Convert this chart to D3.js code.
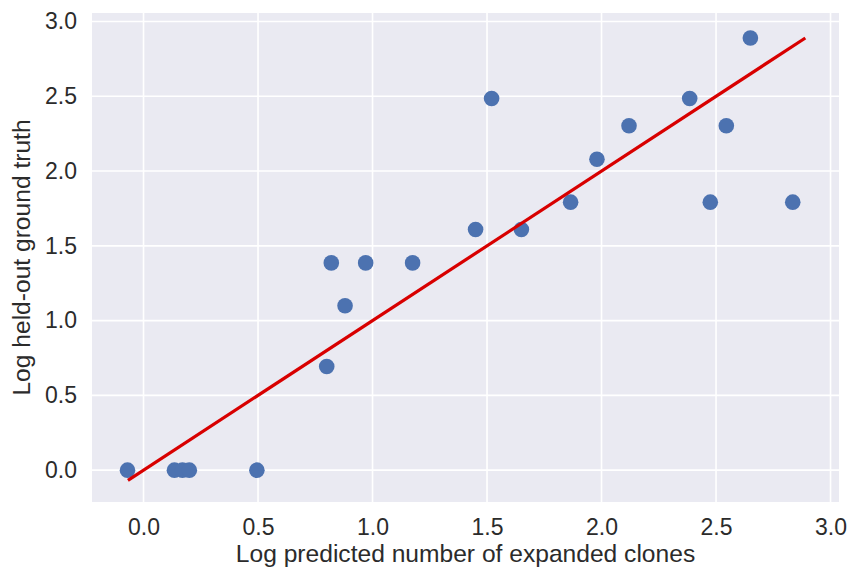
<!DOCTYPE html>
<html>
<head>
<meta charset="utf-8">
<script src="https://d3js.org/d3.v7.min.js"></script>
<style>
  body { margin: 0; background: #fff; }
  text { font-family: "Liberation Sans", Arial, sans-serif; fill: #2b2b2b; }
</style>
</head>
<body>
<div id="chart"></div>
<script>
// predicted (x) vs held-out (y), both log scale
var predicted = [-0.07, 0.135, 0.17, 0.2, 0.495, 0.80, 0.82, 0.88, 0.97, 1.175,
                 1.45, 1.52, 1.65, 1.865, 1.98, 2.12, 2.385, 2.475, 2.545, 2.65, 2.835];
var heldOut   = [0, 0, 0, 0, 0, 0.693, 1.386, 1.099, 1.386, 1.386,
                 1.609, 2.485, 1.609, 1.792, 2.079, 2.303, 2.485, 1.792, 2.303, 2.890, 1.792];
var lineEnds  = [-0.068, 2.89];
var xTicks = [0, 0.5, 1, 1.5, 2, 2.5, 3];
var yTicks = [0, 0.5, 1, 1.5, 2, 2.5, 3];

var W = 848, H = 571;
var margin = {top: 13, right: 9, bottom: 69, left: 92};
var w = W - margin.left - margin.right, h = H - margin.top - margin.bottom;

var svg = d3.select('#chart').append('svg').attr('width', W).attr('height', H);
var g = svg.append('g').attr('transform', 'translate(' + margin.left + ',' + margin.top + ')');

var x = d3.scaleLinear().domain([-0.225, 3.037]).range([0, w]);
var y = d3.scaleLinear().domain([-0.213, 3.057]).range([h, 0]);

g.append('rect').attr('width', w).attr('height', h).attr('fill', '#eaeaf2');

// grid
g.selectAll('.gx').data(xTicks).enter().append('line')
  .attr('x1', d => x(d)).attr('x2', d => x(d)).attr('y1', 0).attr('y2', h)
  .attr('stroke', '#fff').attr('stroke-width', 1.6);
g.selectAll('.gy').data(yTicks).enter().append('line')
  .attr('y1', d => y(d)).attr('y2', d => y(d)).attr('x1', 0).attr('x2', w)
  .attr('stroke', '#fff').attr('stroke-width', 1.6);

// axes (text only, seaborn darkgrid style)
var xa = g.append('g').attr('transform', 'translate(0,' + h + ')')
  .call(d3.axisBottom(x).tickValues(xTicks).tickFormat(d3.format('.1f')).tickSize(0).tickPadding(17));
var ya = g.append('g')
  .call(d3.axisLeft(y).tickValues(yTicks).tickFormat(d3.format('.1f')).tickSize(0).tickPadding(15));
[xa, ya].forEach(function(a) {
  a.select('.domain').remove();
  a.selectAll('text').style('font-size', '23px').attr('fill', '#2b2b2b')
    .style('font-family', '"Liberation Sans", Arial, sans-serif');
});

// points
var pts = predicted.map((p, i) => ({x: p, y: heldOut[i]}));
g.selectAll('circle').data(pts).enter().append('circle')
  .attr('cx', d => x(d.x)).attr('cy', d => y(d.y)).attr('r', 7.8)
  .attr('fill', '#4c72b0');

// y = x reference line
g.append('line')
  .attr('x1', x(lineEnds[0])).attr('y1', y(lineEnds[0]))
  .attr('x2', x(lineEnds[1])).attr('y2', y(lineEnds[1]))
  .attr('stroke', '#d80000').attr('stroke-width', 3.2);

// labels
svg.append('text').attr('x', margin.left + w / 2).attr('y', 562)
  .attr('text-anchor', 'middle').style('font-size', '24.6px')
  .text('Log predicted number of expanded clones');
svg.append('text').attr('transform', 'translate(30,' + (margin.top + h / 2) + ') rotate(-90)')
  .attr('text-anchor', 'middle').style('font-size', '24.6px')
  .text('Log held-out ground truth');
</script>
</body>
</html>
